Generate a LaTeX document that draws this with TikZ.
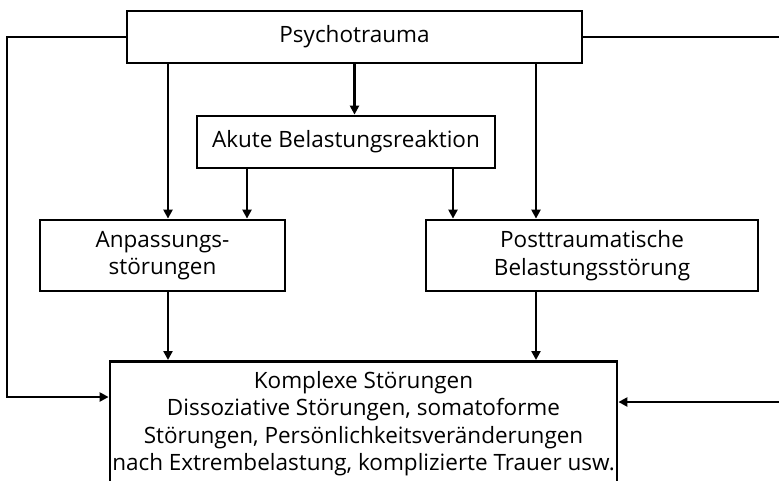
\documentclass[tikz,border=0pt]{standalone}
\usepackage{fontspec}
\setmainfont{Open Sans}
\usepackage{tikz}
\usetikzlibrary{arrows.meta, positioning, calc}
\tikzset{
  blk/.style  = {rectangle, draw=black, line width=2.8pt, fill=white,
                 minimum width=#1, align=center, inner sep=0pt,
                 font=\fontsize{22.5}{27.5}\selectfont},
  blk/.default = 200pt,
  arr/.style  = {-{Triangle[length=9pt, width=9pt]}, line width=2.6pt},
  lin/.style  = {line width=2.6pt},
}

\begin{document}
\begin{tikzpicture}[x=1pt, y=-1pt]
  \useasboundingbox (0,0) rectangle (779,480);

  \node[blk=455pt, minimum height=52pt] (psy) at (354.5,37) {Psychotrauma};
  \node[blk=298pt, minimum height=52pt] (abr) at (346,142) {Akute Belastungsreaktion};
  \node[blk=245pt, minimum height=71pt] (anp) at (162.5,255.5) {Anpassungs-\\störungen};
  \node[blk=332pt, minimum height=71pt] (pts) at (592,255.5) {Posttraumatische\\Belastungsstörung};
  \node[blk=507pt, minimum height=124pt, anchor=north] (kst) at (363.5,360)
       {Komplexe Störungen\\Dissoziative Störungen, somatoforme\\Störungen, Persönlichkeitsveränderungen\\nach Extrembelastung, komplizierte Trauer usw.};

  % direct paths
  \draw[arr] (psy.south) -- (psy.south |- abr.north);
  \draw[arr] (psy.south -| 168,0) -- (anp.north -| 168,0);
  \draw[arr] (psy.south -| 536,0) -- (pts.north -| 536,0);
  \draw[arr] (abr.south -| 247,0) -- (anp.north -| 247,0);
  \draw[arr] (abr.south -| 453,0) -- (pts.north -| 453,0);
  \draw[arr] (anp.south -| 168,0) -- (kst.north -| 168,0);
  \draw[arr] (pts.south -| 536,0) -- (kst.north -| 536,0);

  % outer loops
  \coordinate (lt) at (7,37);
  \coordinate (lb) at (7,397);
  \coordinate (rt) at (782,37);
  \coordinate (rb) at (782,402);
  \draw[arr] (psy.west) -- (lt) -- (lb) -- (lb -| kst.west);
  \draw[lin] (psy.east) -- (rt);
  \draw[arr] (rb) -- (rb -| kst.east);

\end{tikzpicture}
\end{document}
